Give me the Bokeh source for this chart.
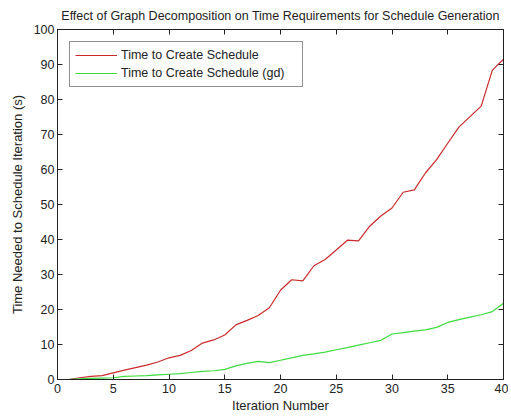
from bokeh.plotting import figure
from bokeh.models import LinearAxis, Range1d, Legend, LegendItem, FixedTicker
from bokeh.embed import file_html
from bokeh.resources import INLINE

iterations = list(range(1, 41))
time_schedule = [0.0, 0.5, 0.9, 1.1, 1.9, 2.7, 3.4, 4.1, 5.0, 6.2,
                 6.9, 8.3, 10.4, 11.3, 12.7, 15.6, 16.9, 18.3, 20.5, 25.5,
                 28.5, 28.2, 32.5, 34.3, 37.0, 39.8, 39.6, 43.8, 46.7, 49.0,
                 53.5, 54.2, 59.0, 62.8, 67.5, 72.1, 75.1, 78.1, 88.4, 91.5]
time_schedule_gd = [0.0, 0.2, 0.3, 0.4, 0.5, 0.9, 1.0, 1.1, 1.3, 1.5,
                    1.7, 2.0, 2.3, 2.5, 2.9, 3.9, 4.6, 5.2, 4.8, 5.5,
                    6.2, 6.9, 7.3, 7.8, 8.5, 9.1, 9.8, 10.5, 11.2, 13.0,
                    13.4, 13.8, 14.2, 14.9, 16.3, 17.1, 17.8, 18.5, 19.4, 21.8]
x_ticks = [0, 5, 10, 15, 20, 25, 30, 35, 40]
y_ticks = [0, 10, 20, 30, 40, 50, 60, 70, 80, 90, 100]

FONT = "Liberation Sans"

p = figure(width=508, height=415, output_backend="svg", toolbar_location=None,
           x_range=Range1d(0, 40), y_range=Range1d(0, 100),
           min_border_left=57, min_border_right=5, min_border_top=29, min_border_bottom=30)
p.title.text = "Effect of Graph Decomposition on Time Requirements for Schedule Generation"
p.title.text_font = FONT
p.title.text_font_size = "12.5px"
p.title.text_font_style = "normal"
p.title.align = "center"
p.title.offset = 0
p.title.standoff = 13
p.title.text_color = "#222222"

p.grid.visible = False
p.outline_line_color = "#222222"
p.outline_line_width = 1

r1 = p.line(iterations, time_schedule, line_color="#cc2a2a", line_width=1.2)
r2 = p.line(iterations, time_schedule_gd, line_color="#3cdc3c", line_width=1.2)

def style_axis(ax, ticks, show_labels):
    ax.ticker = FixedTicker(ticks=ticks)
    ax.major_tick_in = 5
    ax.major_tick_out = 0
    ax.minor_tick_in = 0
    ax.minor_tick_out = 0
    ax.axis_line_color = "#222222"
    ax.major_tick_line_color = "#222222"
    ax.major_label_text_font = FONT
    ax.major_label_text_font_size = "12.5px"
    ax.major_label_text_color = "#222222"
    ax.major_label_standoff = 4
    ax.axis_label_text_font = FONT
    ax.axis_label_text_font_size = "13px"
    ax.axis_label_text_font_style = "normal"
    ax.axis_label_text_color = "#222222"
    ax.axis_label_standoff = 2
    if not show_labels:
        ax.major_label_overrides = {t: "" for t in ticks}
        ax.major_label_standoff = 0

style_axis(p.xaxis[0], x_ticks, True)
style_axis(p.yaxis[0], y_ticks, True)
p.xaxis[0].axis_label = "Iteration Number"
p.yaxis[0].axis_label = "Time Needed to Schedule Iteration (s)"
p.yaxis[0].axis_label_standoff = 6
p.yaxis[0].major_label_standoff = 3

top_ax = LinearAxis()
style_axis(top_ax, x_ticks, False)
p.add_layout(top_ax, "above")
right_ax = LinearAxis()
style_axis(right_ax, y_ticks, False)
p.add_layout(right_ax, "right")

legend = Legend(items=[LegendItem(label="Time to Create Schedule", renderers=[r1]),
                       LegendItem(label="Time to Create Schedule (gd)", renderers=[r2])],
                location="top_left")
legend.margin = 12
legend.padding = 5
legend.spacing = 2
legend.glyph_width = 42
legend.glyph_height = 16
legend.label_standoff = 4
legend.label_width = 176
legend.label_text_font = FONT
legend.label_text_font_size = "12.5px"
legend.label_text_color = "#222222"
legend.border_line_color = "#222222"
legend.border_line_width = 1
legend.background_fill_color = "white"
legend.background_fill_alpha = 1
p.add_layout(legend, "center")

open("out.html", "w").write(file_html(p, INLINE))
